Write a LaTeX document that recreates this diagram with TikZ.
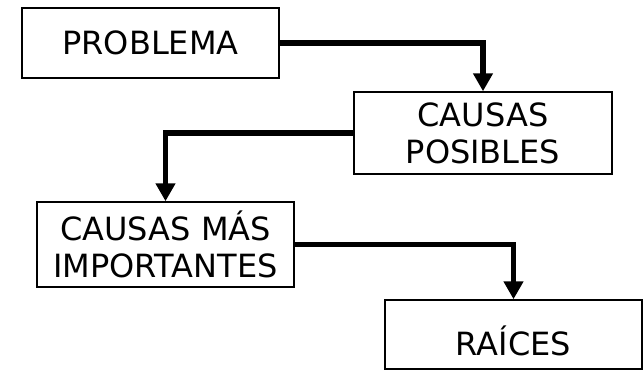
\documentclass[tikz,border=0pt]{standalone}
\usepackage{fontspec}
\setmainfont{DejaVu Sans}
\usetikzlibrary{arrows.meta}
\begin{document}
\begin{tikzpicture}[x=1pt,y=-1pt,
  box/.style={draw, line width=1.5pt, inner sep=0pt, align=center, font=\fontsize{32}{37}\selectfont},
  conn/.style={line width=5.5pt, -{Triangle[length=18pt,width=19pt]}}]
\useasboundingbox (0,0) rectangle (644,370);
\node[box, minimum width=257pt, minimum height=70pt] (prob) at (150.5,43) {PROBLEMA};
\node[box, minimum width=258pt, minimum height=82pt] (posib) at (483,133) {CAUSAS\\POSIBLES};
\node[box, minimum width=257pt, minimum height=85pt] (imp) at (165.5,244.5) {CAUSAS MÁS\\IMPORTANTES};
\node[box, minimum width=257pt, minimum height=69pt, text height=41pt, text depth=0pt] (raic) at (513.5,334.5) {RAÍCES};
\draw[conn] (prob.east) -| (posib.north);
\draw[conn] (posib.west) -| (imp.north);
\draw[conn] (imp.east) -| (raic.north);
\end{tikzpicture}
\end{document}
